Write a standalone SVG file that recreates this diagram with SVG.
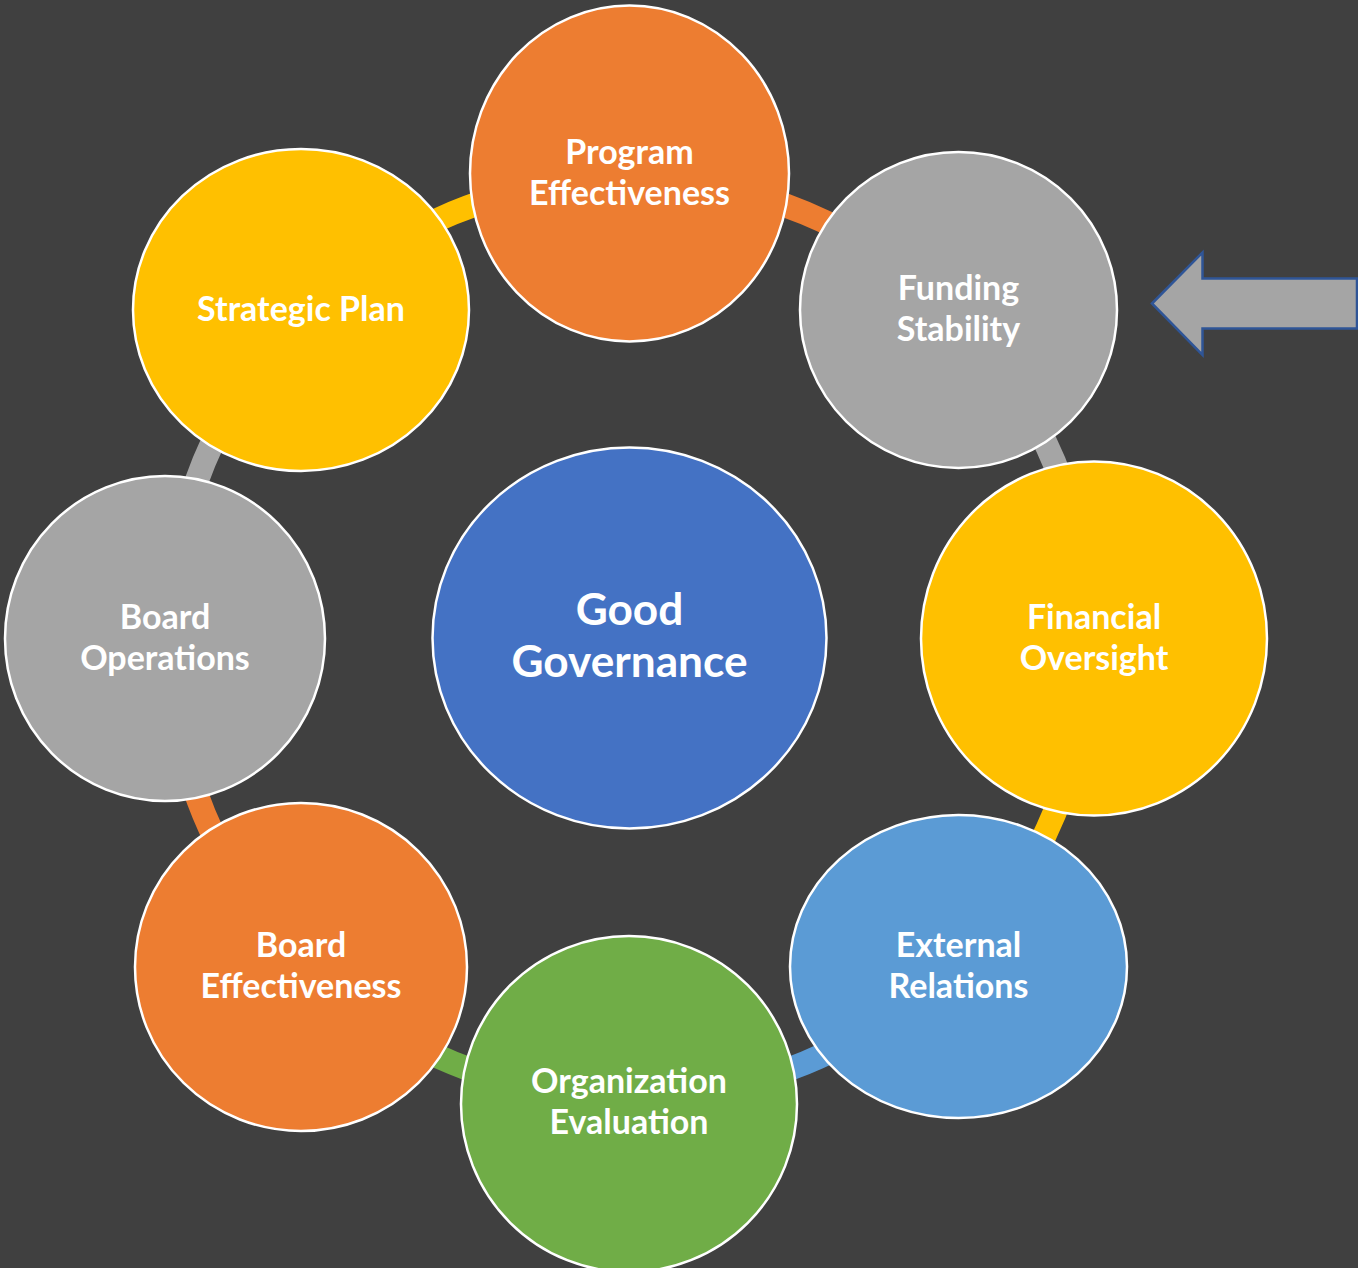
<svg xmlns="http://www.w3.org/2000/svg" width="1358" height="1268" viewBox="0 0 1358 1268">
<style>
.node{stroke:#ffffff;stroke-width:2.5}
.lbl{font-family:Lato,"Open Sans","Liberation Sans",sans-serif;font-weight:700;fill:#ffffff;text-anchor:middle;font-size:34px}
.big{font-size:44.2px}
.ring{fill:none;stroke-width:24}
</style>
<rect x="0" y="0" width="1358" height="1268" fill="#404040"/>
<g id="connectors">
<path class="ring" stroke="#ED7D31" d="M629,178 A460,460 0 0 1 954.27,312.73"/>
<path class="ring" stroke="#A5A5A5" d="M954.27,312.73 A460,460 0 0 1 1089,638"/>
<path class="ring" stroke="#FFC000" d="M1089,638 A460,460 0 0 1 954.27,963.27"/>
<path class="ring" stroke="#5B9BD5" d="M954.27,963.27 A460,460 0 0 1 629,1098"/>
<path class="ring" stroke="#70AD47" d="M629,1098 A460,460 0 0 1 303.73,963.27"/>
<path class="ring" stroke="#ED7D31" d="M303.73,963.27 A460,460 0 0 1 169,638"/>
<path class="ring" stroke="#A5A5A5" d="M169,638 A460,460 0 0 1 303.73,312.73"/>
<path class="ring" stroke="#FFC000" d="M303.73,312.73 A460,460 0 0 1 629,178"/>
</g>
<g id="good-governance">
<ellipse class="node" cx="629.5" cy="638" rx="197" ry="190.5" fill="#4472C4"/>
<text class="lbl big" x="629.5" y="625">Good</text>
<text class="lbl big" x="629.5" y="677">Governance</text>
</g>
<g id="program-effectiveness">
<ellipse class="node" cx="629.5" cy="173.5" rx="159.5" ry="168" fill="#ED7D31"/>
<text class="lbl" x="629.5" y="164">Program</text>
<text class="lbl" x="629.5" y="205">Effectiveness</text>
</g>
<g id="funding-stability">
<ellipse class="node" cx="958.5" cy="310" rx="158.5" ry="158" fill="#A5A5A5"/>
<text class="lbl" x="958.5" y="300">Funding</text>
<text class="lbl" x="958.5" y="341">Stability</text>
</g>
<g id="financial-oversight">
<ellipse class="node" cx="1094" cy="638.5" rx="173" ry="177" fill="#FFC000"/>
<text class="lbl" x="1094" y="629">Financial</text>
<text class="lbl" x="1094" y="670">Oversight</text>
</g>
<g id="external-relations">
<ellipse class="node" cx="958.5" cy="966.5" rx="168.5" ry="151.5" fill="#5B9BD5"/>
<text class="lbl" x="958.5" y="957">External</text>
<text class="lbl" x="958.5" y="998">Relations</text>
</g>
<g id="organization-evaluation">
<ellipse class="node" cx="629" cy="1104" rx="168" ry="168" fill="#70AD47"/>
<text class="lbl" x="629" y="1093">Organization</text>
<text class="lbl" x="629" y="1134">Evaluation</text>
</g>
<g id="board-effectiveness">
<ellipse class="node" cx="301" cy="967" rx="166" ry="164" fill="#ED7D31"/>
<text class="lbl" x="301" y="957">Board</text>
<text class="lbl" x="301" y="998">Effectiveness</text>
</g>
<g id="board-operations">
<ellipse class="node" cx="165" cy="638.5" rx="160" ry="162.5" fill="#A5A5A5"/>
<text class="lbl" x="165" y="629">Board</text>
<text class="lbl" x="165" y="670">Operations</text>
</g>
<g id="strategic-plan">
<ellipse class="node" cx="301" cy="310" rx="168" ry="161" fill="#FFC000"/>
<text class="lbl" x="301" y="321">Strategic Plan</text>
</g>
<g id="arrow">
<path d="M1152,303.5 L1202.5,252.5 L1202.5,278.5 L1357,278.5 L1357,328.5 L1202.5,328.5 L1202.5,355 Z" fill="#A5A5A5" stroke="#2F5597" stroke-width="2.5" stroke-linejoin="miter"/>
</g>
</svg>
